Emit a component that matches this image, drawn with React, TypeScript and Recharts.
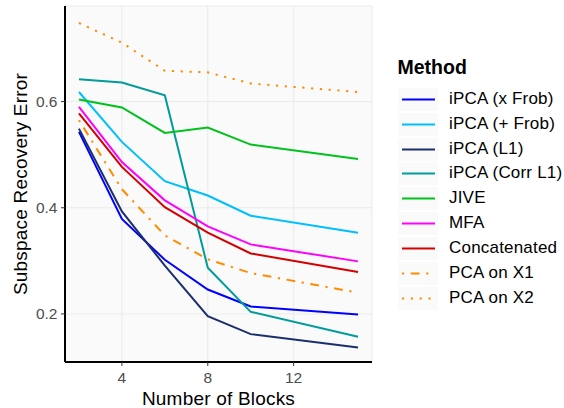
import { CartesianGrid, Legend, Line, LineChart, XAxis, YAxis } from "recharts";

const blocks = [2, 4, 6, 8, 10, 15];

const iPcaTimesFrob = [0.543, 0.379, 0.302, 0.246, 0.214, 0.199];
const iPcaPlusFrob = [0.618, 0.524, 0.45, 0.423, 0.385, 0.353];
const iPcaL1 = [0.549, 0.393, 0.291, 0.196, 0.162, 0.137];
const iPcaCorrL1 = [0.642, 0.636, 0.612, 0.287, 0.204, 0.157];
const jive = [0.604, 0.589, 0.541, 0.551, 0.519, 0.492];
const mfa = [0.59, 0.486, 0.414, 0.365, 0.331, 0.299];
const concatenated = [0.578, 0.477, 0.401, 0.353, 0.314, 0.279];
const pcaX1 = [0.565, 0.435, 0.348, 0.303, 0.277, 0.24];
const pcaX2 = [0.748, 0.711, 0.658, 0.655, 0.634, 0.618];

const xTicks = [4, 8, 12];
const yTicks = [0.2, 0.4, 0.6];

const FONT = "'Liberation Sans', Arial, Helvetica, sans-serif";

const series = [
  { key: "xfrob", name: "iPCA (x Frob)", values: iPcaTimesFrob, color: "#0000FF", dash: undefined },
  { key: "pfrob", name: "iPCA (+ Frob)", values: iPcaPlusFrob, color: "#00BFFF", dash: undefined },
  { key: "l1", name: "iPCA (L1)", values: iPcaL1, color: "#1B2F6B", dash: undefined },
  { key: "corrl1", name: "iPCA (Corr L1)", values: iPcaCorrL1, color: "#009B9B", dash: undefined },
  { key: "jive", name: "JIVE", values: jive, color: "#00C21C", dash: undefined },
  { key: "mfa", name: "MFA", values: mfa, color: "#FF00FF", dash: undefined },
  { key: "concat", name: "Concatenated", values: concatenated, color: "#D40000", dash: undefined },
  { key: "x1", name: "PCA on X1", values: pcaX1, color: "#FF8C00", dash: "2.2 6.6 8.8 6.6" },
  { key: "x2", name: "PCA on X2", values: pcaX2, color: "#FF8C00", dash: "2.2 6.6" },
];

const data = blocks.map((b, i) => {
  const row: Record<string, number> = { x: b };
  series.forEach((s) => {
    row[s.key] = s.values[i];
  });
  return row;
});

const MethodLegend = () => (
  <div style={{ fontFamily: FONT, color: "#000" }}>
    <div style={{ fontSize: 19.5, fontWeight: 700, lineHeight: "24px", height: 24 }}>Method</div>
    <div style={{ marginTop: 7.8 }}>
      {series.map((s) => (
        <div key={s.key} style={{ display: "flex", alignItems: "center", height: 24.9 }}>
          <svg width={40} height={23} style={{ display: "block" }}>
            <rect x={0} y={0} width={40} height={23} fill="#FAFAFA" />
            <line
              x1={4}
              x2={37}
              y1={11.5}
              y2={11.5}
              stroke={s.color}
              strokeWidth={1.9}
              strokeDasharray={s.dash}
            />
          </svg>
          <span
            style={{
              fontSize: 17,
              letterSpacing: 0.2,
              lineHeight: "24.9px",
              marginLeft: 11.5,
              whiteSpace: "nowrap",
            }}
          >
            {s.name}
          </span>
        </div>
      ))}
    </div>
  </div>
);

export default function App() {
  return (
    <div style={{ position: "absolute", left: 0, top: 0, width: 564, height: 408, background: "#fff", fontFamily: FONT }}>
      <LineChart width={564} height={408} data={data} margin={{ top: 6, right: 192, bottom: 0, left: 0 }}>
        <CartesianGrid fill="#FAFAFA" stroke="#EBEBEB" strokeWidth={1.1} />
        <XAxis
          dataKey="x"
          type="number"
          domain={[1.35, 15.65]}
          allowDataOverflow
          ticks={xTicks}
          height={46}
          tickSize={4}
          tickMargin={5.5}
          tick={{ fill: "#4D4D4D", fontSize: 15.5 }}
          tickLine={{ stroke: "#333333" }}
          axisLine={{ stroke: "#000", strokeWidth: 2 }}
          label={{
            value: "Number of Blocks",
            position: "insideBottom",
            offset: 3.5,
            fill: "#000",
            fontSize: 19,
            style: { letterSpacing: 0.2 },
          }}
        />
        <YAxis
          type="number"
          domain={[0.1095, 0.78]}
          allowDataOverflow
          ticks={yTicks}
          width={65}
          tickSize={4}
          tickMargin={3.5}
          tickFormatter={(v: number) => v.toFixed(1)}
          tick={{ fill: "#4D4D4D", fontSize: 15.5 }}
          tickLine={{ stroke: "#333333" }}
          axisLine={{ stroke: "#000", strokeWidth: 2 }}
          label={{
            value: "Subspace Recovery Error",
            angle: -90,
            position: "insideLeft",
            offset: 20,
            fill: "#000",
            fontSize: 19,
            style: { textAnchor: "middle", letterSpacing: 0.2 },
          }}
        />
        {series.map((s) => (
          <Line
            key={s.key}
            dataKey={s.key}
            name={s.name}
            type="linear"
            stroke={s.color}
            strokeWidth={2}
            strokeDasharray={s.dash}
            dot={false}
            activeDot={false}
            isAnimationActive={false}
          />
        ))}
        <Legend
          layout="vertical"
          align="center"
          verticalAlign="middle"
          content={() => <MethodLegend />}
          wrapperStyle={{ left: 397.5, top: 55, width: 166 }}
        />
      </LineChart>
    </div>
  );
}
